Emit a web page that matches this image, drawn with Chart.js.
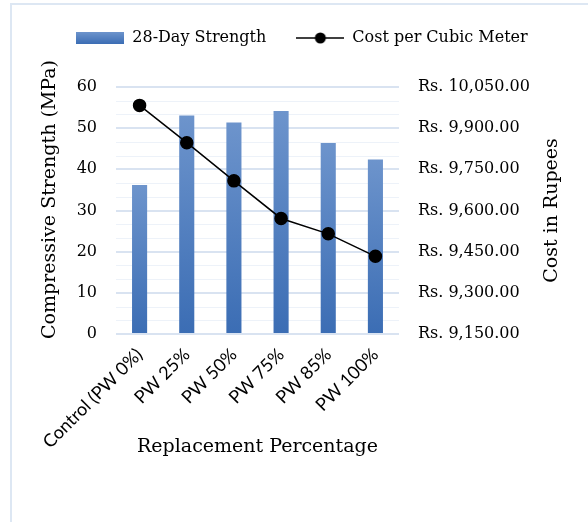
<!DOCTYPE html>
<html lang="en">
<head>
    <meta charset="UTF-8">
    <script src="https://cdn.jsdelivr.net/npm/chart.js"></script>
    <style>
        body { margin: 0; background: #fff; }
        #frame { position: absolute; left: 10px; top: 3px; width: 700px; height: 700px;
                 border-left: 2px solid #dde7f3; border-top: 2px solid #dde7f3; }
        #wrap { position: absolute; left: 0; top: 0; width: 588px; height: 522px; }
    </style>
</head>
<body>
    <div id="frame"></div>
    <div id="wrap"><canvas id="myChart1" width="588" height="522"></canvas></div>

    <script>
        var categories = ['Control (PW 0%)', 'PW 25%', 'PW 50%', 'PW 75%', 'PW 85%', 'PW 100%'];
        var strength = [36.2, 53.1, 51.4, 54.2, 46.4, 42.4];
        var costPerM3 = [9983, 9847, 9708, 9571, 9515, 9433];
        var strengthTicks = [0, 10, 20, 30, 40, 50, 60];
        var costTicks = [9150, 9300, 9450, 9600, 9750, 9900, 10050];
        // 보조 눈금선 (MPa)
        var minorGridValues = [3.33, 6.67, 13.33, 16.67, 23.33, 26.67, 33.33, 36.67, 43.33, 46.67, 53.33, 56.67];

        var serif = "'DejaVu Serif', serif";
        var majorGrid = '#d9e3f1';
        var minorGrid = '#edf2f9';

        // 막대 그라데이션 (위가 밝고 아래가 진함)
        var barFill = function (c) {
            var chart = c.chart;
            if (!chart.chartArea || c.parsed == null) return '#4f7fc0';
            var y = chart.scales.y;
            var g = chart.ctx.createLinearGradient(0, y.getPixelForValue(c.parsed.y), 0, y.getPixelForValue(0));
            g.addColorStop(0, '#6d94cc');
            g.addColorStop(1, '#3b6db4');
            return g;
        };

        // 범례 아이콘
        var barIcon = document.createElement('canvas');
        barIcon.width = 48; barIcon.height = 12;
        var bctx = barIcon.getContext('2d');
        var bg = bctx.createLinearGradient(0, 0, 0, 12);
        bg.addColorStop(0, '#6d94cc');
        bg.addColorStop(1, '#3b6db4');
        bctx.fillStyle = bg;
        bctx.fillRect(0, 0, 48, 12);

        var lineIcon = document.createElement('canvas');
        lineIcon.width = 48; lineIcon.height = 12;
        var lctx = lineIcon.getContext('2d');
        lctx.strokeStyle = '#000'; lctx.lineWidth = 1.5;
        lctx.beginPath(); lctx.moveTo(0, 6); lctx.lineTo(48, 6); lctx.stroke();
        lctx.fillStyle = '#000';
        lctx.beginPath(); lctx.arc(24, 6, 5.5, 0, Math.PI * 2); lctx.fill();

        var extras = {
            id: 'extras',
            beforeInit: function (chart) {
                // 범례 아래 여백 추가
                var fit = chart.legend.fit;
                chart.legend.fit = function () {
                    fit.call(this);
                    this.height += 31;
                };
            },
            afterLayout: function (chart) {
                chart.legend.left += 8;
                chart.legend.right += 8;
            },
            beforeDatasetsDraw: function (chart) {
                var ctx = chart.ctx;
                var a = chart.chartArea;
                var y = chart.scales.y;
                ctx.save();
                ctx.strokeStyle = minorGrid;
                ctx.lineWidth = 1;
                minorGridValues.forEach(function (v) {
                    var py = Math.round(y.getPixelForValue(v)) + 0.5;
                    ctx.beginPath(); ctx.moveTo(a.left, py); ctx.lineTo(a.right, py); ctx.stroke();
                });
                ctx.restore();
            },
            // 축 제목 직접 그림 (아래에서 위로 읽힘)
            afterDraw: function (chart) {
                var ctx = chart.ctx;
                var a = chart.chartArea;
                var mid = (a.top + a.bottom) / 2;
                ctx.save();
                ctx.font = "19px " + serif;
                ctx.fillStyle = '#000';
                ctx.textAlign = 'center';
                ctx.textBaseline = 'middle';
                ctx.translate(50, mid - 11);
                ctx.rotate(-Math.PI / 2);
                ctx.fillText('Compressive Strength (MPa)', 0, 0);
                ctx.rotate(Math.PI / 2);
                ctx.translate(502, 11);
                ctx.rotate(-Math.PI / 2);
                ctx.fillText('Cost in Rupees', 0, 0);
                ctx.restore();
            }
        };

        var fmtRs = function (v) {
            return 'Rs. ' + Number(v).toLocaleString('en-US', { minimumFractionDigits: 2, maximumFractionDigits: 2 });
        };

        const ctx1 = document.getElementById("myChart1").getContext("2d");
        new Chart(ctx1, {
            data: {
                labels: categories,
                datasets: [
                    {
                        type: 'line',
                        label: 'Cost per Cubic Meter',
                        data: costPerM3,
                        yAxisID: 'y1',
                        borderColor: '#000',
                        backgroundColor: '#000',
                        borderWidth: 1.5,
                        pointRadius: 6,
                        pointHoverRadius: 6,
                        order: 0,
                    },
                    {
                        type: 'bar',
                        label: '28-Day Strength',
                        data: strength,
                        yAxisID: 'y',
                        backgroundColor: barFill,
                        barPercentage: 0.32,
                        categoryPercentage: 1,
                        order: 1,
                    },
                ],
            },
            options: {
                responsive: false,
                animation: false,
                layout: { padding: { left: 0, right: 0, top: 0, bottom: 64 } },
                plugins: {
                    tooltip: { enabled: false },
                    legend: {
                        position: 'top',
                        labels: {
                            usePointStyle: true,
                            pointStyleWidth: 48,
                            padding: 30,
                            color: '#000',
                            font: { family: serif, size: 16 },
                            generateLabels: function (chart) {
                                var items = Chart.defaults.plugins.legend.labels.generateLabels(chart);
                                items.forEach(function (it) {
                                    it.pointStyle = it.datasetIndex === 1 ? barIcon : lineIcon;
                                });
                                // 막대 먼저
                                return items.sort(function (p, q) { return q.datasetIndex - p.datasetIndex; });
                            }
                        }
                    }
                },
                scales: {
                    x: {
                        grid: { display: false },
                        border: { display: false },
                        ticks: {
                            color: '#000',
                            font: { family: "Lato, 'Open Sans', sans-serif", size: 18 },
                            minRotation: 45,
                            maxRotation: 45,
                            padding: 2,
                        },
                        title: {
                            display: true,
                            text: 'Replacement Percentage',
                            color: '#000',
                            font: { family: serif, size: 19 },
                            padding: { top: 0, bottom: 0 }
                        },
                        afterFit: function (scale) { scale.height = 124; }
                    },
                    y: {
                        position: 'left',
                        min: 0,
                        max: 60,
                        afterBuildTicks: function (scale) {
                            scale.ticks = strengthTicks.map(function (v) { return { value: v }; });
                        },
                        ticks: {
                            color: '#000',
                            padding: 19,
                            font: { family: serif, size: 16 },
                        },
                        border: { display: false },
                        grid: { drawTicks: false, color: majorGrid, lineWidth: 2 },
                        afterFit: function (scale) { scale.width = 116; }
                    },
                    y1: {
                        position: 'right',
                        min: 9150,
                        max: 10050,
                        afterBuildTicks: function (scale) {
                            scale.ticks = costTicks.map(function (v) { return { value: v }; });
                        },
                        ticks: {
                            color: '#000',
                            padding: 19,
                            font: { family: serif, size: 16 },
                            callback: function (v) { return fmtRs(v); }
                        },
                        border: { display: false },
                        grid: { drawOnChartArea: false, drawTicks: false },
                        afterFit: function (scale) { scale.width = 189; }
                    }
                }
            },
            plugins: [extras]
        });
    </script>
</body>
</html>
